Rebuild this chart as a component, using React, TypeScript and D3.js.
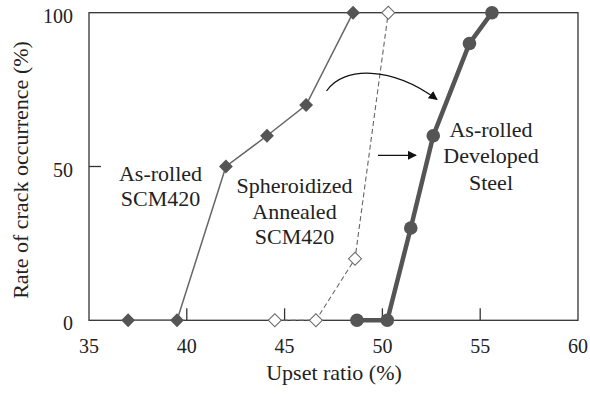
import * as d3 from 'd3';
import React from 'react';

const asRolledX = [37.0, 39.5, 42.0, 44.1, 46.1, 48.5];
const asRolledY = [0, 0, 50, 60, 70, 100];
const spheroX = [44.5, 46.6, 48.6, 50.3];
const spheroY = [0, 0, 20, 100];
const developedX = [48.7, 50.25, 51.45, 52.6, 54.45, 55.6];
const developedY = [0, 0, 30, 60, 90, 100];

const xTicks = [35, 40, 45, 50, 55, 60];
const yTicks = [0, 50, 100];

export default function App() {
  const svgRef = React.useRef<SVGSVGElement>(null);

  React.useEffect(() => {
    if (svgRef.current == null) {
      return;
    }
    const w = 590;
    const h = 394;
    const left = 89;
    const right = 578;
    const top = 12.7;
    const bottom = 320.3;
    const font = "'Liberation Serif', 'Times New Roman', Times, 'DejaVu Serif', serif";
    const grey = '#555';

    const svg = d3.select(svgRef.current);
    svg.selectAll('*').remove();
    svg.attr('width', w).attr('height', h).style('font-family', font);

    const xScale = d3.scaleLinear().domain([35, 60]).range([left, right]);
    const yScale = d3.scaleLinear().domain([0, 100]).range([bottom, top]);

    svg
      .append('defs')
      .append('marker')
      .attr('id', 'arrow')
      .attr('viewBox', '0 0 10 10')
      .attr('refX', 9)
      .attr('refY', 5)
      .attr('markerWidth', 9)
      .attr('markerHeight', 9)
      .attr('markerUnits', 'userSpaceOnUse')
      .attr('orient', 'auto')
      .append('path')
      .attr('d', 'M0,0 L10,5 L0,10 Z')
      .attr('fill', '#111');

    // frame
    svg
      .append('rect')
      .attr('x', left)
      .attr('y', top)
      .attr('width', right - left)
      .attr('height', bottom - top)
      .attr('fill', 'none')
      .attr('stroke', '#333')
      .attr('stroke-width', 1.3);

    // inward ticks
    for (const t of xTicks.slice(1, -1)) {
      svg
        .append('line')
        .attr('x1', xScale(t))
        .attr('x2', xScale(t))
        .attr('y1', bottom)
        .attr('y2', bottom - 12)
        .attr('stroke', '#333')
        .attr('stroke-width', 1.3);
    }
    svg
      .append('line')
      .attr('x1', left)
      .attr('x2', left + 12)
      .attr('y1', yScale(50))
      .attr('y2', yScale(50))
      .attr('stroke', '#333')
      .attr('stroke-width', 1.3);

    // tick labels
    svg
      .selectAll('text.xt')
      .data(xTicks)
      .join('text')
      .attr('class', 'xt')
      .attr('x', (d) => xScale(d))
      .attr('y', 353)
      .attr('text-anchor', 'middle')
      .style('font-family', font)
      .style('font-size', '20px')
      .attr('fill', '#222')
      .text((d) => d);

    svg
      .selectAll('text.yt')
      .data(yTicks)
      .join('text')
      .attr('class', 'yt')
      .attr('x', 73)
      .attr('y', (d) => yScale(d) + 10)
      .attr('text-anchor', 'end')
      .style('font-family', font)
      .style('font-size', '20px')
      .attr('fill', '#222')
      .text((d) => d);

    svg
      .append('text')
      .attr('x', 334)
      .attr('y', 380)
      .attr('text-anchor', 'middle')
      .style('font-family', font)
      .style('font-size', '22px')
      .attr('fill', '#222')
      .text('Upset ratio (%)');

    svg
      .append('text')
      .attr('transform', 'translate(28, 170) rotate(-90)')
      .attr('text-anchor', 'middle')
      .style('font-family', font)
      .style('font-size', '22px')
      .attr('fill', '#222')
      .text('Rate of crack occurrence (%)');

    const line = d3
      .line<[number, number]>()
      .x((d) => xScale(d[0]))
      .y((d) => yScale(d[1]));

    const asRolled = asRolledX.map((x, i) => [x, asRolledY[i]] as [number, number]);
    const sphero = spheroX.map((x, i) => [x, spheroY[i]] as [number, number]);
    const developed = developedX.map((x, i) => [x, developedY[i]] as [number, number]);

    svg
      .append('path')
      .attr('d', line(asRolled))
      .attr('fill', 'none')
      .attr('stroke', '#666')
      .attr('stroke-width', 1.5);

    svg
      .append('path')
      .attr('d', line(sphero))
      .attr('fill', 'none')
      .attr('stroke', '#666')
      .attr('stroke-width', 1.1)
      .attr('stroke-dasharray', '5,3');

    svg
      .append('path')
      .attr('d', line(developed))
      .attr('fill', 'none')
      .attr('stroke', grey)
      .attr('stroke-width', 4.5);

    svg
      .selectAll('path.ar')
      .data(asRolled)
      .join('path')
      .attr('class', 'ar')
      .attr('d', d3.symbol(d3.symbolSquare, 96))
      .attr('transform', (d) => `translate(${xScale(d[0])},${yScale(d[1])}) rotate(45)`)
      .attr('fill', grey);

    svg
      .selectAll('path.sp')
      .data(sphero)
      .join('path')
      .attr('class', 'sp')
      .attr('d', d3.symbol(d3.symbolSquare, 84))
      .attr('transform', (d) => `translate(${xScale(d[0])},${yScale(d[1])}) rotate(45)`)
      .attr('fill', '#fff')
      .attr('stroke', '#666')
      .attr('stroke-width', 1);

    svg
      .selectAll('circle.dv')
      .data(developed)
      .join('circle')
      .attr('class', 'dv')
      .attr('cx', (d) => xScale(d[0]))
      .attr('cy', (d) => yScale(d[1]))
      .attr('r', 6.8)
      .attr('fill', grey);

    // annotations
    const labels: [number, number, string[], number][] = [
      [160.5, 181, ['As-rolled', 'SCM420'], 24.5],
      [294.5, 193, ['Spheroidized', 'Annealed', 'SCM420'], 25.5],
      [491, 136.5, ['As-rolled', 'Developed', 'Steel'], 26.5],
    ];
    for (const [cx, y0, lines, gap] of labels) {
      lines.forEach((s, i) => {
        svg
          .append('text')
          .attr('x', cx)
          .attr('y', y0 + i * gap)
          .attr('text-anchor', 'middle')
          .style('font-family', font)
          .style('font-size', '22px')
          .attr('fill', '#222')
          .text(s);
      });
    }

    svg
      .append('path')
      .attr('d', 'M326.5,91 C343,66 392,66 437,99.5')
      .attr('fill', 'none')
      .attr('stroke', '#111')
      .attr('stroke-width', 1.2)
      .attr('marker-end', 'url(#arrow)');

    svg
      .append('path')
      .attr('d', 'M378,155.3 L416,155.3')
      .attr('fill', 'none')
      .attr('stroke', '#111')
      .attr('stroke-width', 1.2)
      .attr('marker-end', 'url(#arrow)');
  }, []);

  return (
    <svg
      ref={svgRef}
      width={590}
      height={394}
      style={{ position: 'absolute', left: 0, top: 0, background: '#fff' }}
    ></svg>
  );
}
